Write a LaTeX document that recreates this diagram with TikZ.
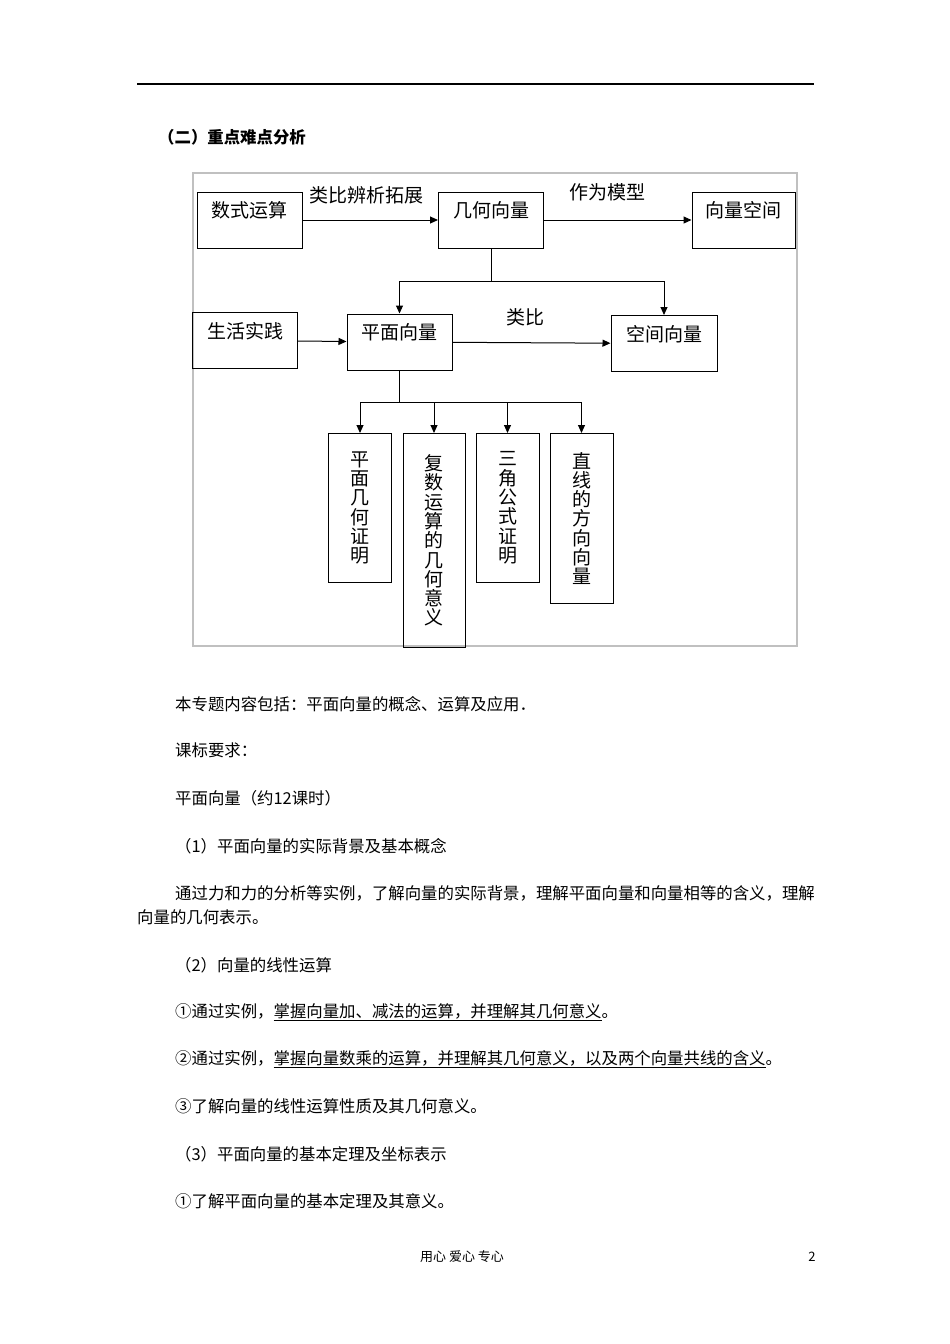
\documentclass[tikz,border=0pt]{standalone}
\usepackage{fontspec}
\newfontfamily\cjk{Noto Sans CJK SC}
\usetikzlibrary{arrows.meta}
\definecolor{frameGray}{HTML}{C0C0C0}
\tikzset{
  hcell/.style={draw, line width=1pt, inner sep=0pt, minimum width=105pt,
                text height=25.7pt, text depth=30.3pt,
                font=\cjk\fontsize{19}{19}\selectfont},
  vcell/.style={draw, line width=1pt, inner sep=0pt, minimum width=63pt,
                anchor=north, align=center,
                font=\cjk\fontsize{19}{19.3}\selectfont},
  flowarr/.style={line width=1pt, -{Triangle[length=8pt,width=7pt]}},
  stemline/.style={line width=1pt},
  elabel/.style={inner sep=0pt, font=\cjk\fontsize{19}{19}\selectfont},
  bodytext/.style={anchor=west, inner sep=0pt,
                   font=\cjk\fontsize{16.4}{20}\selectfont},
  headtext/.style={anchor=west, inner sep=0pt,
                   font=\cjk\bfseries\fontsize{16.4}{20}\selectfont},
  foottext/.style={inner sep=0pt, font=\cjk\fontsize{13}{15}\selectfont},
}
\begin{document}
\begin{tikzpicture}[x=1pt, y=-1pt]
    \useasboundingbox[fill=white] (0,0) rectangle (950,1344);
    % page head
    \draw[line width=1.5pt] (137,84) -- (814,84);
    \node[headtext] (head) at (158,137) {（二）重点难点分析};
    % diagram
    \draw[frameGray, line width=1.2pt] (193,173) rectangle (797,646);
    \node[hcell] (szys) at (249.5,220) {数式运算};
    \node[hcell] (jhxl) at (491,220) {几何向量};
    \node[hcell, minimum width=103pt] (xlkj) at (743.5,220) {向量空间};
    \node[hcell] (shsj) at (245,340.5) {生活实践};
    \node[hcell] (pmxl) at (399.5,342) {平面向量};
    \node[hcell, minimum width=106pt] (kjxl) at (664,343.5) {空间向量};
    \node[vcell, minimum height=149pt] (pmjh) at (360,433) {平\\面\\几\\何\\证\\明};
    \node[vcell, minimum height=214pt, minimum width=62pt] (fsys) at (434,433) {复\\数\\运\\算\\的\\几\\何\\意\\义};
    \node[vcell, minimum height=149pt] (sjgs) at (507.5,433) {三\\角\\公\\式\\证\\明};
    \node[vcell, minimum height=170pt] (zxfx) at (581.5,433) {直\\线\\的\\方\\向\\向\\量};
    \draw[flowarr] (szys) -- node[elabel, pos=0.47, above=15.5pt] (lbzk) {类比辨析拓展} (jhxl);
    \draw[flowarr] (jhxl) -- node[elabel, pos=0.43, above=18.5pt] (zwmx) {作为模型} (xlkj);
    \draw[flowarr] (shsj) -- (pmxl);
    \draw[flowarr] (pmxl) -- node[elabel, pos=0.46, above=16.5pt] (lb) {类比} (kjxl);
    \coordinate (fork1) at (491,281);
    \draw[stemline] (jhxl) -- (fork1);
    \draw[flowarr] (fork1) -| (pmxl);
    \draw[flowarr] (fork1) -| (kjxl);
    \coordinate (fork2) at (399.5,402);
    \draw[stemline] (pmxl) -- (fork2);
    \foreach \leaf in {pmjh, fsys, sjgs, zxfx}
      \draw[flowarr] (fork2) -| (\leaf);
    % body text
    \node[bodytext] (t1) at (175,704) {本专题内容包括：平面向量的概念、运算及应用．};
    \node[bodytext] (t2) at (175,750) {课标要求：};
    \node[bodytext] (t3) at (175,798) {平面向量（约12课时）};
    \node[bodytext] (t4) at (175,846) {（1）平面向量的实际背景及基本概念};
    \node[bodytext] (t5) at (175,893) {通过力和力的分析等实例，了解向量的实际背景，理解平面向量和向量相等的含义，理解};
    \node[bodytext] (t6) at (137,917) {向量的几何表示。};
    \node[bodytext] (t7) at (175,965) {（2）向量的线性运算};
    \node[bodytext] (t8) at (175,1012) {①通过实例，\underline{掌握向量加、减法的运算，并理解其几何意义}。};
    \node[bodytext] (t9) at (175,1059) {②通过实例，\underline{掌握向量数乘的运算，并理解其几何意义，以及两个向量共线的含义}。};
    \node[bodytext] (t10) at (175,1106) {③了解向量的线性运算性质及其几何意义。};
    \node[bodytext] (t11) at (175,1154) {（3）平面向量的基本定理及坐标表示};
    \node[bodytext] (t12) at (175,1201) {①了解平面向量的基本定理及其意义。};
    % page foot
    \node[foottext] (foot) at (462,1257) {用心 爱心 专心};
    \node[foottext] (pageno) at (812,1257) {2};
\end{tikzpicture}
\end{document}
